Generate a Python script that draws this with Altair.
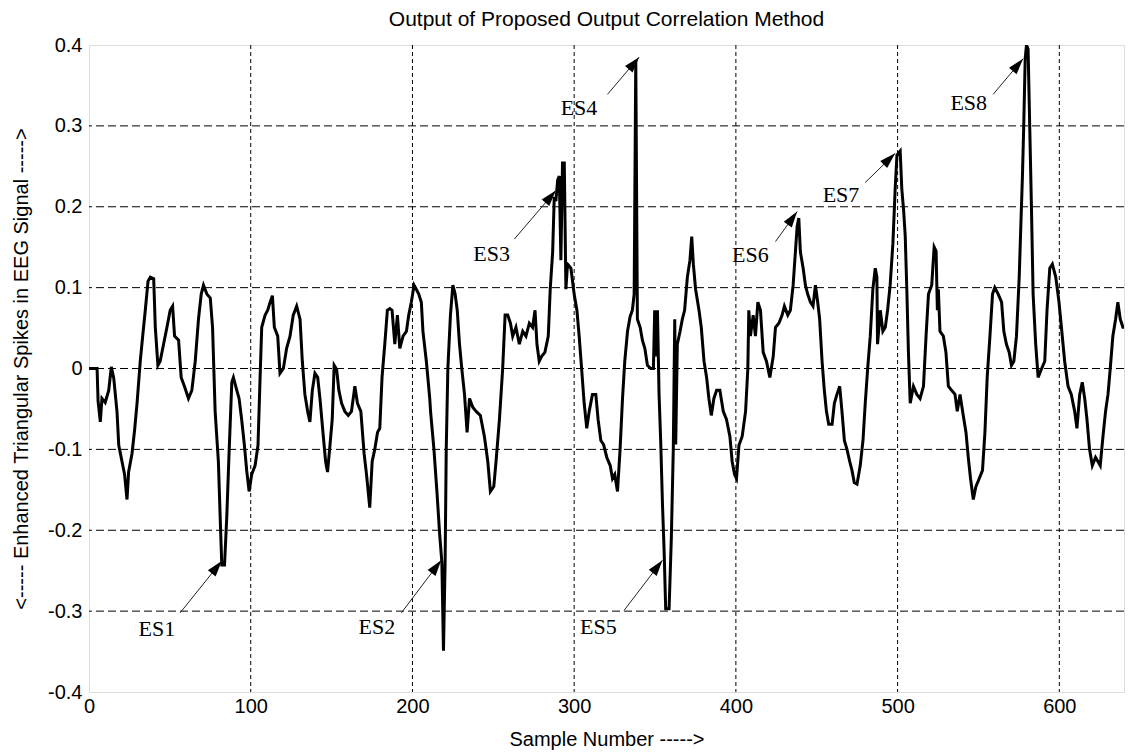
import math
import altair as alt
import pandas as pd

# Correlator output, sample index vs. amplitude
sample_number = [
    0, 5, 5.6, 7, 8, 10, 12.2, 13.8, 15.3, 17.3, 18.4, 20.4, 22, 23.5, 24.5, 26.6, 28.2, 29.7,
    31.7, 33.2, 34.8, 36.5, 37.9, 40, 41, 42.6, 44, 46.1, 48.2, 50.2, 51.7, 52.9, 55.4, 57, 59,
    61.5, 63.6, 65.7, 67.7, 69.4, 70.8, 72.9, 75, 76.4, 78, 80, 81.1, 82.1, 83.8, 85.2, 86.6,
    88.3, 89.3, 91.4, 92.8, 94.4, 96.1, 97.5, 99, 100.6, 102.7, 104.5, 105.8, 106.8, 108.9,
    110.5, 112, 113.4, 114.6, 116.7, 118.1, 120.2, 122.2, 124.3, 126.3, 128.4, 130.5, 131.9,
    133.5, 135.2, 136.6, 138.1, 139.7, 141.4, 142.8, 144.9, 146.3, 147.5, 149, 150.4, 151.6,
    153.1, 154.5, 156.2, 158.2, 160.3, 162.3, 164.4, 166, 168.1, 170.1, 171.6, 173.6, 175.1,
    176.7, 178.4, 179.8, 181.2, 182.9, 184.5, 186, 187.4, 189.1, 190.7, 192.2, 194.2, 196.3,
    197.7, 199.3, 201, 202.4, 203.9, 205.5, 206.5, 208.6, 210.7, 211.2, 213.3, 215.3, 216.8,
    218.2, 219.2, 220.2, 220.9, 221.9, 223.5, 225, 226.4, 227.7, 229.1, 230.5, 232.2, 233.8,
    235.3, 237.3, 239.4, 242, 244.5, 246.6, 248.2, 250.3, 251.7, 253.8, 255.8, 257.3, 258.9,
    260.6, 262, 264, 266.1, 268.2, 270.2, 272.3, 274.3, 275.8, 277, 278.4, 279.9, 281.9, 284,
    285.2, 286.7, 287.7, 288.7, 289.8, 290.8, 291.8, 292.8, 293.9, 294.9, 295.9, 298, 300,
    301.7, 303.1, 304.6, 306.2, 307.8, 309.3, 311.3, 313.4, 314.8, 316.5, 318.2, 320.2, 322.3,
    323.7, 325.1, 326.8, 328.4, 329.9, 331.3, 333, 334.6, 336, 337.1, 338.1, 339.1, 340.8,
    342.2, 343.7, 345.3, 347.4, 349, 349.8, 350.6, 351.5, 352.5, 353.5, 354.6, 355.6, 356.6,
    358.7, 360.1, 361.3, 362.2, 362.8, 363.8, 365.5, 366.9, 368.3, 370, 371.6, 372.7, 373.7,
    375.1, 377.2, 378.6, 380.3, 381.9, 383.3, 384.8, 386.4, 388.1, 390.1, 392.2, 394.2, 396.3,
    397.7, 399.2, 400.4, 401.9, 403.9, 406, 407.4, 408, 409, 410.7, 412.1, 413.6, 415.2, 416.9,
    418.9, 421, 423.1, 424.5, 426.6, 428.6, 430, 432.1, 433.7, 435.4, 436.8, 437.9, 438.9,
    439.9, 441.6, 443, 444.4, 446.1, 447.7, 449.2, 450.6, 451.8, 453.3, 454.7, 456, 457.4,
    459.5, 460.9, 462.5, 464.2, 465.6, 467.1, 468.7, 470.4, 471.8, 473.2, 474.9, 476.9, 478.6,
    480, 481.5, 483.1, 484.7, 486.2, 487.2, 487.6, 489.3, 490.9, 492.4, 493.8, 495.4, 497.1,
    498.5, 499.6, 501.6, 502.6, 503.7, 504.7, 505.7, 506.7, 507.8, 509.8, 511.9, 513.9, 516,
    517.6, 519.1, 521.1, 522.6, 523.8, 524.6, 525.2, 526.2, 528.3, 529.9, 531.4, 533.4, 535.5,
    536.9, 538.6, 540.6, 542.3, 543.7, 545.1, 546.8, 548.4, 550.5, 552.5, 554, 555.4, 557.1,
    558.7, 560.1, 562.2, 564.3, 565.7, 567.3, 569, 570.4, 571.9, 573.5, 575.2, 576.2, 577.2,
    578, 578.9, 579.7, 580.7, 581.7, 582.8, 583.8, 585.4, 586.9, 588.9, 591, 592.4, 594.1,
    595.7, 597.8, 599.8, 601.3, 603.3, 605.4, 607.4, 609.5, 610.9, 612.6, 614.2, 615.7, 617.1,
    618.7, 620.4, 622.4, 623.9, 625.3, 627, 628.6, 630.1, 631.5, 633.1, 634.8, 636.2, 637.7,
    639.3, 640,
]
spike_output = [
    0.0, 0.0, -0.04, -0.066, -0.037, -0.042, -0.027, 0.002, -0.012, -0.053, -0.095, -0.115,
    -0.131, -0.162, -0.128, -0.105, -0.076, -0.043, 0.009, 0.04, 0.072, 0.108, 0.113, 0.111,
    0.051, 0.004, 0.009, 0.03, 0.051, 0.072, 0.077, 0.04, 0.035, -0.011, -0.022, -0.037,
    -0.027, 0.009, 0.061, 0.092, 0.103, 0.092, 0.087, 0.051, -0.053, -0.115, -0.183, -0.243,
    -0.243, -0.183, -0.105, -0.017, -0.011, -0.027, -0.037, -0.063, -0.095, -0.126, -0.152,
    -0.131, -0.12, -0.095, -0.011, 0.051, 0.066, 0.072, 0.082, 0.09, 0.051, 0.04, -0.006, 0.0,
    0.025, 0.04, 0.066, 0.077, 0.061, 0.009, -0.032, -0.053, -0.066, -0.027, -0.006, -0.011,
    -0.037, -0.084, -0.115, -0.128, -0.095, -0.063, 0.004, -0.001, -0.027, -0.043, -0.053,
    -0.058, -0.053, -0.022, -0.043, -0.053, -0.105, -0.131, -0.172, -0.115, -0.1, -0.079,
    -0.074, -0.011, 0.03, 0.072, 0.074, 0.072, 0.03, 0.066, 0.025, 0.04, 0.046, 0.066, 0.082,
    0.103, 0.098, 0.092, 0.082, 0.046, 0.009, -0.037, -0.053, -0.1, -0.157, -0.204, -0.24,
    -0.349, -0.24, -0.1, 0.0, 0.066, 0.103, 0.092, 0.072, 0.03, 0.0, -0.032, -0.079, -0.037,
    -0.048, -0.053, -0.058, -0.084, -0.115, -0.152, -0.146, -0.115, -0.063, 0.0, 0.066, 0.066,
    0.056, 0.04, 0.051, 0.03, 0.046, 0.04, 0.056, 0.051, 0.072, 0.03, 0.009, 0.015, 0.02, 0.04,
    0.098, 0.144, 0.212, 0.207, 0.233, 0.238, 0.134, 0.254, 0.254, 0.098, 0.129, 0.124, 0.092,
    0.072, 0.04, 0.0, -0.043, -0.074, -0.053, -0.032, -0.032, -0.063, -0.089, -0.094, -0.11,
    -0.12, -0.136, -0.131, -0.152, -0.1, -0.037, 0.009, 0.046, 0.064, 0.072, 0.092, 0.381,
    0.061, 0.051, 0.035, 0.025, 0.004, 0.0, 0.0, 0.072, 0.015, 0.072, -0.032, -0.089, -0.167,
    -0.224, -0.297, -0.297, -0.209, -0.1, 0.061, -0.094, 0.03, 0.046, 0.061, 0.072, 0.113,
    0.134, 0.163, 0.129, 0.098, 0.072, 0.051, 0.009, -0.011, -0.037, -0.058, -0.037, -0.027,
    -0.027, -0.053, -0.063, -0.084, -0.115, -0.131, -0.136, -0.095, -0.084, -0.053, 0.0, 0.072,
    0.04, 0.066, 0.04, 0.082, 0.072, 0.02, 0.009, -0.011, 0.015, 0.051, 0.056, 0.066, 0.077,
    0.066, 0.072, 0.103, 0.144, 0.176, 0.186, 0.144, 0.124, 0.103, 0.092, 0.082, 0.077, 0.103,
    0.082, 0.061, 0.009, -0.027, -0.053, -0.069, -0.069, -0.043, -0.032, -0.022, -0.053,
    -0.089, -0.1, -0.115, -0.126, -0.141, -0.143, -0.12, -0.089, -0.043, 0.0, 0.04, 0.098,
    0.124, 0.113, 0.03, 0.072, 0.046, 0.051, 0.072, 0.103, 0.155, 0.222, 0.264, 0.269, 0.222,
    0.196, 0.165, 0.098, 0.02, -0.043, -0.022, -0.032, -0.037, -0.022, 0.04, 0.092, 0.103,
    0.15, 0.145, 0.072, 0.098, 0.046, 0.04, 0.02, -0.022, -0.027, -0.032, -0.053, -0.032,
    -0.058, -0.079, -0.11, -0.136, -0.162, -0.146, -0.136, -0.126, -0.079, -0.011, 0.04, 0.092,
    0.1, 0.092, 0.082, 0.046, 0.03, 0.02, 0.004, 0.009, 0.04, 0.113, 0.176, 0.238, 0.3, 0.383,
    0.4, 0.395, 0.3, 0.196, 0.092, 0.03, -0.011, -0.001, 0.009, 0.072, 0.124, 0.129, 0.113,
    0.082, 0.051, 0.009, -0.022, -0.032, -0.053, -0.074, -0.032, -0.017, -0.037, -0.063, -0.1,
    -0.12, -0.11, -0.115, -0.12, -0.084, -0.053, -0.032, 0.0, 0.04, 0.061, 0.082, 0.061, 0.051,
    0.051,
]

# Spike annotations: label position, arrow tail and arrow tip (data units)
spike_labels = ["ES1", "ES2", "ES3", "ES4", "ES5", "ES6", "ES7", "ES8"]
label_x = [42, 178, 249, 303, 315, 409, 465, 544]
label_y = [-0.322, -0.320, 0.142, 0.322, -0.320, 0.140, 0.214, 0.328]
tail_x = [56.4, 193.2, 263, 320.6, 330.9, 424.5, 480, 559.1]
tail_y = [-0.302, -0.302, 0.160, 0.339, -0.299, 0.157, 0.230, 0.339]
tip_x = [82.1, 217.8, 288.7, 340.2, 354.6, 437.9, 498.5, 577.6]
tip_y = [-0.238, -0.237, 0.220, 0.385, -0.237, 0.194, 0.266, 0.383]

x_ticks = [0, 100, 200, 300, 400, 500, 600]
y_ticks = [-0.4, -0.3, -0.2, -0.1, 0.0, 0.1, 0.2, 0.3, 0.4]

W, H = 1035, 647
X_DOMAIN = [0, 640]
Y_DOMAIN = [-0.4, 0.4]
kx = W / (X_DOMAIN[1] - X_DOMAIN[0])
ky = H / (Y_DOMAIN[1] - Y_DOMAIN[0])

signal = pd.DataFrame({"n": sample_number, "v": spike_output, "i": range(len(sample_number))})

# arrowhead orientation in screen space (y grows downward)
head_angle = []
for tx, ty, hx, hy in zip(tail_x, tail_y, tip_x, tip_y):
    ang = math.degrees(math.atan2(-(hy - ty) * ky, (hx - tx) * kx))
    head_angle.append(ang % 360)

notes = pd.DataFrame({
    "label": spike_labels, "lx": label_x, "ly": label_y,
    "tx": tail_x, "ty": tail_y, "hx": tip_x, "hy": tip_y, "ang": head_angle,
})

SANS = "Liberation Sans, Arial, sans-serif"
FS = 20
xs = alt.Scale(domain=X_DOMAIN, nice=False, zero=False)
ys = alt.Scale(domain=Y_DOMAIN, nice=False, zero=False)

minus_fix = "datum.value == 0 ? '0' : replace(format(datum.value, '.1f'), '\u2212', '-')"

# dashed grid, drawn as separate layers so the two directions can differ
vgrid = alt.Chart(pd.DataFrame({"g": x_ticks[1:]})).mark_rule(
    color="black", strokeWidth=1, strokeDash=[4, 3]
).encode(x=alt.X("g:Q", scale=xs))
hgrid = alt.Chart(pd.DataFrame({"g": y_ticks[1:-1]})).mark_rule(
    color="black", strokeWidth=1, strokeDash=[8, 4]
).encode(y=alt.Y("g:Q", scale=ys))

line = alt.Chart(signal).mark_line(color="black", strokeWidth=3, strokeJoin="miter", clip=True).encode(
    x=alt.X("n:Q", scale=xs,
            axis=alt.Axis(values=x_ticks, title="Sample Number ----->", grid=False, domain=False,
                          ticks=False, labelPadding=4, labelFont=SANS, labelFontSize=FS,
                          labelColor="black", titleFont=SANS, titleFontSize=FS,
                          titleFontWeight="normal", titleColor="black", titlePadding=13,
                          labelFlush=False)),
    y=alt.Y("v:Q", scale=ys,
            axis=alt.Axis(values=y_ticks, title="<----- Enhanced Triangular Spikes in EEG Signal ----->",
                          grid=False, domain=False, ticks=False, labelPadding=7, labelFont=SANS,
                          labelFontSize=FS, labelColor="black", labelExpr=minus_fix,
                          titleFont=SANS, titleFontSize=FS, titleFontWeight="normal",
                          titleColor="black", titlePadding=16, labelFlush=False)),
    order="i:Q",
)

arrow_shaft = alt.Chart(notes).mark_rule(color="#222222", strokeWidth=1).encode(
    x=alt.X("tx:Q", scale=xs), y=alt.Y("ty:Q", scale=ys),
    x2="hx:Q", y2="hy:Q",
)
arrow_head = alt.Chart(notes).mark_point(
    shape="M0,0 L-2,-0.62 L-2,0.62 Z", filled=True, color="black", opacity=1, size=256,
).encode(
    x=alt.X("hx:Q", scale=xs), y=alt.Y("hy:Q", scale=ys), angle=alt.Angle("ang:Q", scale=None),
)
arrow_text = alt.Chart(notes).mark_text(
    font="Liberation Serif, Times New Roman, serif", fontSize=22, color="black",
    align="center", baseline="middle",
).encode(x=alt.X("lx:Q", scale=xs), y=alt.Y("ly:Q", scale=ys), text="label:N")

chart = alt.layer(vgrid, hgrid, line, arrow_shaft, arrow_head, arrow_text).properties(
    width=W, height=H,
    title=alt.TitleParams("Output of Proposed Output Correlation Method", font=SANS, fontSize=21,
                          fontWeight="normal", color="black", offset=5),
    autosize=alt.AutoSizeParams(type="none"),
    padding={"left": 89, "top": 45, "right": 4, "bottom": 64},
).configure_view(stroke="black", strokeWidth=1.5).configure(background="white")

chart.save("out.html", embed_options={"renderer": "svg", "actions": False})
